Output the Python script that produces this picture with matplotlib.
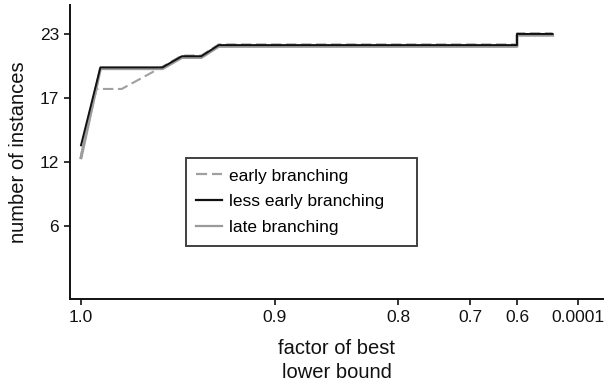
import matplotlib
matplotlib.use("Agg")
import matplotlib.pyplot as plt
import matplotlib.transforms as mtransforms
import numpy as np
from matplotlib.ticker import FixedLocator, FuncFormatter

plt.rcParams["font.family"] = ["Liberation Sans", "DejaVu Sans"]

# factor of best lower bound -> number of solved instances
X_EARLY = [1.0, 0.992, 0.979, 0.958, 0.948, 0.938, 0.929, 0.6, 0.6, 0.25]
Y_EARLY = [12, 18, 18, 20, 21, 21, 22, 22, 23, 23]

X_LESS = [1.0, 0.99, 0.958, 0.948, 0.938, 0.929, 0.6, 0.6, 0.25]
Y_LESS = [13, 20, 20, 21, 21, 22, 22, 23, 23]

X_LATE = [1.0, 0.99, 0.958, 0.948, 0.938, 0.929, 0.6, 0.6, 0.25]
Y_LATE = [12, 20, 20, 21, 21, 22, 22, 23, 23]

X_TICKS = [1.0, 0.9, 0.8, 0.7, 0.6, 0.0001]
X_TICK_LABELS = ["1.0", "0.9", "0.8", "0.7", "0.6", "0.0001"]
N_TOTAL = 23

# non-uniform factor axis: piecewise linear between the labelled factors
_KX = np.array(X_TICKS[::-1])
_KP = -np.array([0.0, 194.0, 317.0, 389.0, 436.0, 497.0])[::-1]


def _pwl(v, xp, fp):
    v = np.asarray(v, dtype=float)
    flat = np.atleast_1d(v).ravel()
    out = np.interp(flat, xp, fp)
    lo = flat < xp[0]
    hi = flat > xp[-1]
    out[lo] = fp[0] + (flat[lo] - xp[0]) * (fp[1] - fp[0]) / (xp[1] - xp[0])
    out[hi] = fp[-1] + (flat[hi] - xp[-1]) * (fp[-1] - fp[-2]) / (xp[-1] - xp[-2])
    return out.reshape(v.shape)


def _forward(x):
    return _pwl(x, _KX, _KP)


def _inverse(p):
    return _pwl(p, _KP, _KX)


fig = plt.figure(figsize=(6.04, 3.89), dpi=100, facecolor="white")
ax = fig.add_axes([70 / 604, 1 - 299 / 389, 534 / 604, 294 / 389])

ax.set_xscale("function", functions=(_forward, _inverse))

# nudge overlapping curves apart by a hair so each stays visible
nudge_down = mtransforms.offset_copy(ax.transData, fig=fig, x=0, y=-0.9, units="points")
nudge_up = mtransforms.offset_copy(ax.transData, fig=fig, x=0, y=0.5, units="points")

ax.plot(X_LATE, Y_LATE, color="#9a9a9a", lw=2.2, transform=nudge_down,
        label="late branching", zorder=2)
ax.plot(X_EARLY, Y_EARLY, color="#a0a0a0", lw=1.5, dashes=(5, 2.2),
        transform=nudge_up, label="early branching", zorder=3)
ax.plot(X_LESS, Y_LESS, color="#111111", lw=1.4, label="less early branching", zorder=4)

ax.set_xlim(float(_inverse(11.0)), float(_inverse(-523.0)))
ax.xaxis.set_major_locator(FixedLocator(X_TICKS))
ax.set_xticklabels(X_TICK_LABELS)
ax.xaxis.set_minor_locator(FixedLocator([]))

y_ticks = [N_TOTAL * k / 4 for k in range(1, 5)]
ax.yaxis.set_major_locator(FixedLocator(y_ticks))
ax.yaxis.set_major_formatter(FuncFormatter(lambda v, _: f"{v:.0f}"))
ax.set_ylim(-0.8, 25.6)

for side in ("top", "right"):
    ax.spines[side].set_visible(False)
for side in ("left", "bottom"):
    ax.spines[side].set_linewidth(1.4)
    ax.spines[side].set_color("#111111")
ax.tick_params(direction="out", length=4, width=1.2, color="#111111",
               labelsize=12.5, labelcolor="#111111", pad=4)

ax.set_xlabel("factor of best\nlower bound", fontsize=14.5, color="#111111",
              labelpad=10, linespacing=1.35)
ax.set_ylabel("number of instances", fontsize=14.5, color="#111111", labelpad=8)

handles, labels = ax.get_legend_handles_labels()
order = [1, 2, 0]
leg = ax.legend(
    [handles[i] for i in order], [labels[i] for i in order],
    loc="upper left",
    bbox_to_anchor=(116 / 534, 141 / 294, 231 / 534, 0.0),
    mode="expand",
    borderaxespad=0,
    frameon=True,
    fancybox=False,
    fontsize=12.5,
    handlelength=1.45,
    handletextpad=0.4,
    labelspacing=0.62,
    borderpad=0.6,
)
leg.get_frame().set_edgecolor("#111111")
leg.get_frame().set_linewidth(1.4)
for line in leg.get_lines():
    line.set_linewidth(1.6)

fig.savefig("out.png", dpi=100, facecolor="white")
